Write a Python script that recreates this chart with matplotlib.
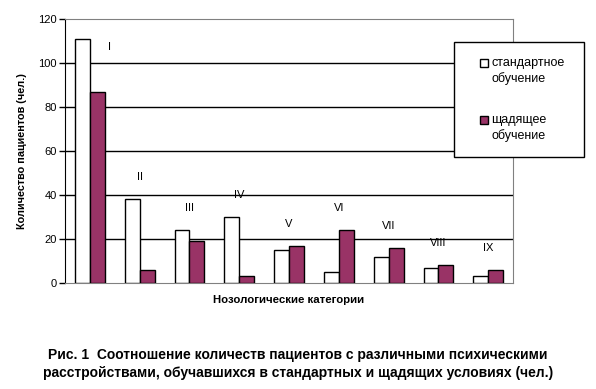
import numpy as np
import matplotlib.pyplot as plt
from matplotlib.patches import Rectangle

plt.rcParams['font.family'] = ['Liberation Sans', 'DejaVu Sans']

# Data
categories = ['I', 'II', 'III', 'IV', 'V', 'VI', 'VII', 'VIII', 'IX']
standard = [111, 38, 24, 30, 15, 5, 12, 7, 3]
gentle = [87, 6, 19, 3, 17, 24, 16, 8, 6]
series_names = ['стандартное\nобучение', 'щадящее\nобучение']

purple = '#993366'
colors = ['white', purple]

fig = plt.figure(figsize=(5.96, 3.89), dpi=100)
ax = fig.add_axes([0.109, 0.2725, 0.752, 0.679])

x = np.arange(len(categories))
w = 0.3
ax.bar(x - w / 2, standard, w, color=colors[0], edgecolor='black', linewidth=1, zorder=3)
ax.bar(x + w / 2, gentle, w, color=colors[1], edgecolor='black', linewidth=1, zorder=3)

# roman numeral labels above each group
for i, name in enumerate(categories):
    top = max(standard[i], gentle[i])
    if i == 0:
        ax.text(i + 0.4, top - 4, name, ha='center', va='center', fontsize=8)
    else:
        ax.text(i, top + 10, name, ha='center', va='center', fontsize=8)

ax.set_xlim(-0.5, len(categories) - 0.5)
ax.set_ylim(0, 120)
ax.set_yticks(range(0, 121, 20))
ax.set_xticks([])
ax.tick_params(axis='y', labelsize=8, length=4, width=1, direction='out', pad=2)
for y in range(20, 101, 20):
    ax.axhline(y, color='black', linewidth=1, zorder=1)

ax.spines['left'].set_color('black')
for s in ['top', 'right', 'bottom']:
    ax.spines[s].set_color('#808080')

ax.set_ylabel('Количество пациентов (чел.)', fontsize=7.8, fontweight='bold', labelpad=8)
ax.set_xlabel('Нозологические категории', fontsize=8.2, fontweight='bold', labelpad=9)

# legend: box, square markers next to the first line of each label
fig.patches.append(Rectangle((0.762, 0.596), 0.218, 0.296, transform=fig.transFigure,
                             facecolor='white', edgecolor='black', linewidth=1))
W, H = 596, 389
for k, (name, c) in enumerate(zip(series_names, colors)):
    y_top = 57 + k * 57
    fig.patches.append(Rectangle((480 / W, 1 - (y_top + 10) / H), 8 / W, 8 / H,
                                 transform=fig.transFigure, facecolor=c,
                                 edgecolor='black', linewidth=1))
    fig.text(491 / W, 1 - y_top / H, name, ha='left', va='top', fontsize=9,
             linespacing=1.3)

fig.text(0.5, 0.064, 'Рис. 1  Соотношение количеств пациентов с различными психическими\n'
         'расстройствами, обучавшихся в стандартных и щадящих условиях (чел.)',
         ha='center', va='center', fontsize=10, fontweight='bold', linespacing=1.35)

fig.savefig('out.png', dpi=100)
